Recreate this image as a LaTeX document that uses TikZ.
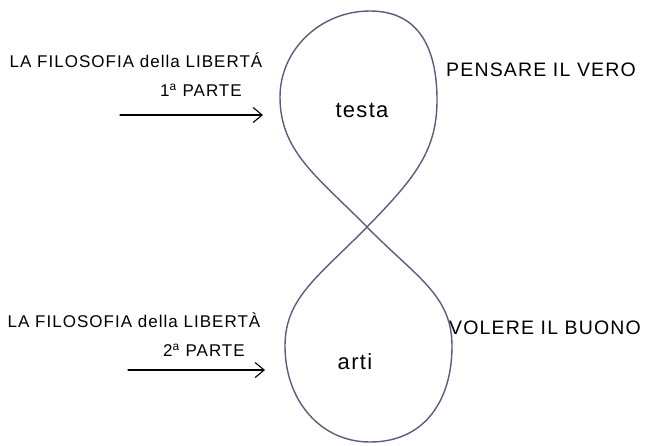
\documentclass[tikz,border=0pt]{standalone}
\usepackage{fontspec}
\usetikzlibrary{arrows.meta}
\newfontfamily\hand[LetterSpace=6]{Liberation Sans}
\definecolor{pencil}{RGB}{95,90,125}
\begin{document}
\begin{tikzpicture}[x=1pt, y=-1pt, line join=round, line cap=round,
  >={Straight Barb[length=9pt,width=15pt]},
  title/.style={font=\hand\fontsize{17}{19}\selectfont, inner sep=0pt},
  motto/.style={font=\hand\fontsize{19.5}{22}\selectfont, inner sep=0pt},
  word/.style={font=\hand\fontsize{22}{24}\selectfont, inner sep=0pt}]
\useasboundingbox (0,0) rectangle (645,445);
\path
(367,227) coordinate (X)
(280,97) coordinate (TL)
(370,11) coordinate (TT)
(437,100) coordinate (TR)
(285,346) coordinate (BL)
(370,442) coordinate (BB)
(452,346) coordinate (BR)
(120,115) coordinate (A1)
(263,115) coordinate (B1)
(128,370) coordinate (A2)
(265,370) coordinate (B2);
% the eight, head above and limbs below
\draw[pencil, line width=1.4pt]
  (X) .. controls (318,177) and (280,152) .. (TL)
      .. controls (280,50) and (320,11) .. (TT)
      .. controls (420,11) and (437,50) .. (TR)
      .. controls (437,150) and (416,177) .. (X)
      .. controls (318,277) and (285,298) .. (BL)
      .. controls (285,400) and (320,442) .. (BB)
      .. controls (425,442) and (452,400) .. (BR)
      .. controls (452,295) and (416,277) .. (X) -- cycle;
\node[word] (testa) at (362,110) {testa};
\node[word] (arti) at (355,362) {arti};
% left side
\node[title] (lib1) at (136,60) {LA FILOSOFIA della LIBERTÁ};
\node[title] (parte1) at (201,90) {1\textsuperscript{a} PARTE};
\node[title] (lib2) at (134,320) {LA FILOSOFIA della LIBERTÀ};
\node[title] (parte2) at (204,350) {2\textsuperscript{a} PARTE};
\draw[->, line width=1.1pt] (A1) -- (B1);
\draw[->, line width=1.1pt] (A2) -- (B2);
% right side
\node[motto] (vero) at (541,70) {PENSARE IL VERO};
\node[motto] (buono) at (545,328) {VOLERE IL BUONO};
\end{tikzpicture}
\end{document}
